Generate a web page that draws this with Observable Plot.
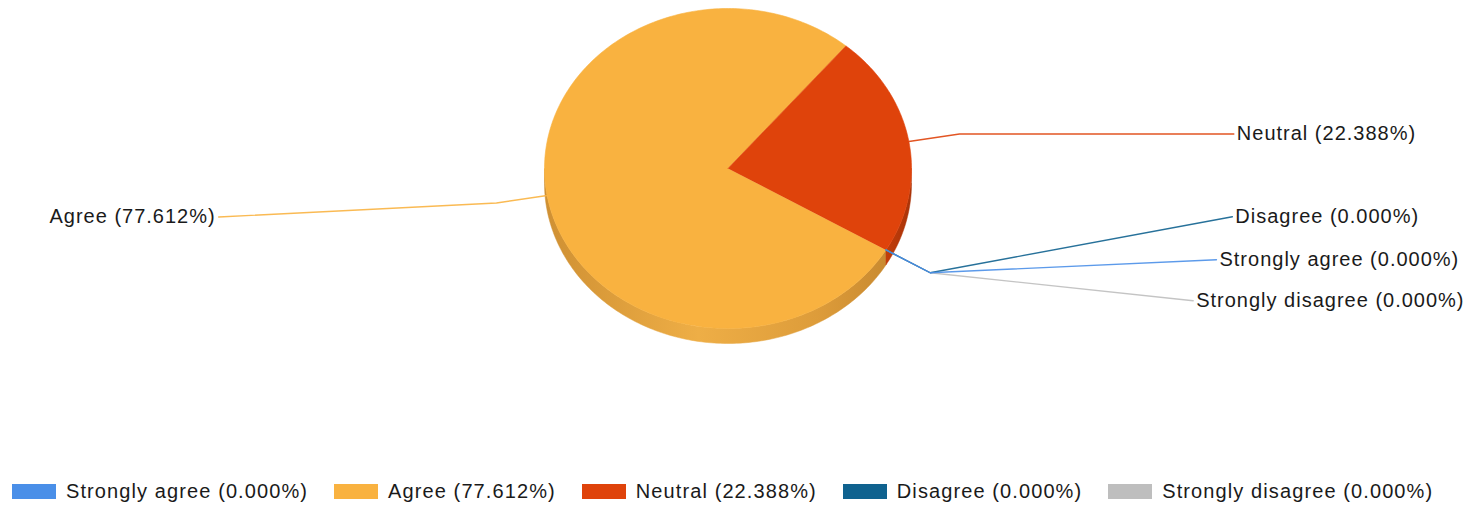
<!DOCTYPE html>
<html>
<head>
<meta charset="utf-8">
<script src="https://cdn.jsdelivr.net/npm/d3@7"></script>
<script src="https://cdn.jsdelivr.net/npm/@observablehq/plot@0.6"></script>
<style>
  html, body { margin: 0; padding: 0; background: #ffffff; overflow: hidden; }
  #chart { width: 1473px; }
  .legend { display: flex; align-items: center; height: 38px; padding-left: 12px;
    font-family: "Liberation Sans", Arial, sans-serif; font-size: 20px; letter-spacing: 1.1px; color: #1a1a1a; }
  .legend .item { display: flex; align-items: center; margin-right: 26px; white-space: nowrap; }
  .legend .sw { width: 44px; height: 15px; margin-right: 10px; }
</style>
</head>
<body>
<div id="chart"></div>
<script>
// ---- data ----
const categories = ["Strongly agree", "Agree", "Neutral", "Disagree", "Strongly disagree"];
const percents = [0, 77.612, 22.388, 0, 0];
const colors = ["#4a8fe8", "#f9b240", "#df430b", "#0f628f", "#bebebe"];

// ---- layout ----
const START_ANGLE = 30.6;      // degrees, clockwise from 3 o'clock
const DEPTH = 15 / 160;        // pie thickness in radius units (y)
const ELBOW_R = 1.28;
const LABEL_R = 2.765;
const PX_X = 183.5, PX_Y = 160; // px per unit radius
const labelNudge = [[-8, -13], [-5, 14], [0, 0], [0, -56], [-19, 28]]; // px

const label = (c, p) => `${c} (${p.toFixed(3)}%)`;
const rad = d => d * Math.PI / 180;

// slices
let cum = 0;
const slices = categories.map((c, i) => {
  const a0 = START_ANGLE + cum * 3.6;
  cum += percents[i];
  const a1 = START_ANGLE + cum * 3.6;
  return {key: c, i, a0, a1, mid: (a0 + a1) / 2, color: colors[i], value: percents[i]};
});

// top faces
const topPts = [];
for (const s of slices) {
  if (s.value <= 0) continue;
  topPts.push({key: s.key, x: 0, y: 0, color: s.color});
  const n = Math.ceil(s.a1 - s.a0);
  for (let k = 0; k <= n; k++) {
    const a = rad(s.a0 + (s.a1 - s.a0) * k / n);
    topPts.push({key: s.key, x: Math.cos(a), y: Math.sin(a), color: s.color});
  }
}

// side faces (visible front: 0..180 deg)
function sidePoly(s) {
  const pts = [];
  for (const off of [0, 360]) {
    const lo = Math.max(s.a0, off), hi = Math.min(s.a1, off + 180);
    if (hi <= lo) continue;
    const n = Math.ceil(hi - lo);
    const arc = d3.range(n + 1).map(k => rad(lo + (hi - lo) * k / n));
    for (const a of arc) pts.push({key: s.key, x: Math.cos(a), y: Math.sin(a)});
    for (const a of arc.slice().reverse()) pts.push({key: s.key, x: Math.cos(a), y: Math.sin(a) + DEPTH});
  }
  return pts;
}
const sideAgree = sidePoly(slices[1]);
const sideNeutral = sidePoly(slices[2]);

// leader lines + labels
const leaders = [];
const labels = [];
for (const s of slices) {
  const a = rad(s.mid);
  const cx = Math.cos(a), cy = Math.sin(a);
  const ex = ELBOW_R * cx, ey = ELBOW_R * cy;
  const [ndx, ndy] = labelNudge[s.i];
  const ly = ey + ndy / PX_Y;
  const side = cx >= 0 ? 1 : -1;
  const lx = side * Math.sqrt(LABEL_R * LABEL_R - ly * ly) + ndx / PX_X;
  leaders.push({key: s.key, order: s.i, pts: [[cx, cy], [ex, ey], [lx, ly]], color: s.color});
  labels.push({x: lx, y: ly, side, text: label(s.key, s.value)});
}
const leaderPts = leaders.slice().reverse().flatMap(l =>
  l.pts.map(([x, y]) => ({key: l.key, x, y, color: l.color})));

const defs = () => {
  const ns = "http://www.w3.org/2000/svg";
  const d = document.createElementNS(ns, "defs");
  const mk = (id, stops) => {
    const g = document.createElementNS(ns, "linearGradient");
    g.setAttribute("id", id);
    g.setAttribute("x1", "0"); g.setAttribute("x2", "1"); g.setAttribute("y1", "0"); g.setAttribute("y2", "0");
    for (const [o, c] of stops) {
      const st = document.createElementNS(ns, "stop");
      st.setAttribute("offset", o); st.setAttribute("stop-color", c);
      g.appendChild(st);
    }
    d.appendChild(g);
  };
  mk("gAgree", [["0", "#cf9033"], ["0.45", "#eeae46"], ["0.8", "#dd9c3a"], ["1", "#c98a30"]]);
  mk("gNeutral", [["0", "#c23d0a"], ["1", "#a93308"]]);
  return d;
};

const plot = Plot.plot({
  width: 1473,
  height: 472,
  margin: 0,
  x: {domain: [-1, 1], range: [544, 911], axis: null},
  y: {domain: [-1, 1], range: [8, 328], axis: null},
  style: {fontFamily: "'Liberation Sans', Arial, sans-serif", letterSpacing: "1px", background: "#ffffff"},
  marks: [
    defs,
    Plot.line(sideAgree, {x: "x", y: "y", z: "key", fill: "url(#gAgree)", stroke: "url(#gAgree)", strokeWidth: 0.5}),
    Plot.line(sideNeutral, {x: "x", y: "y", z: "key", fill: "url(#gNeutral)", stroke: "url(#gNeutral)", strokeWidth: 0.5}),
    Plot.line(topPts, {x: "x", y: "y", z: "key", fill: "color", stroke: "color", strokeWidth: 0.6}),
    Plot.line(leaderPts, {x: "x", y: "y", z: "key", stroke: "color", strokeWidth: 1.4, strokeOpacity: 0.9}),
    Plot.text(labels.filter(d => d.side > 0), {x: "x", y: "y", text: "text", textAnchor: "start", dx: 3, fontSize: 20, fill: "#1a1a1a"}),
    Plot.text(labels.filter(d => d.side < 0), {x: "x", y: "y", text: "text", textAnchor: "end", dx: -3, fontSize: 20, fill: "#1a1a1a"})
  ]
});

const chart = document.getElementById("chart");
chart.appendChild(plot);

const legend = document.createElement("div");
legend.className = "legend";
categories.forEach((c, i) => {
  const item = document.createElement("div");
  item.className = "item";
  const sw = document.createElement("span");
  sw.className = "sw";
  sw.style.background = colors[i];
  const t = document.createElement("span");
  t.textContent = label(c, percents[i]);
  item.appendChild(sw); item.appendChild(t);
  legend.appendChild(item);
});
chart.appendChild(legend);
</script>
</body>
</html>
